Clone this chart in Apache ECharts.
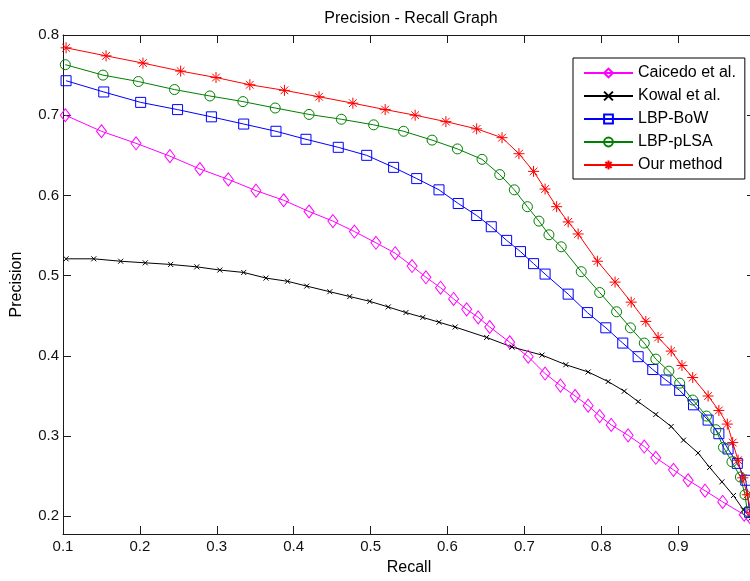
<!DOCTYPE html>
<html>
<head>
<meta charset="utf-8">
<script src="https://cdn.jsdelivr.net/npm/echarts@6/dist/echarts.min.js"></script>
<style>
html,body{margin:0;padding:0;background:#fff;overflow:hidden;width:750px;height:581px;}
#chart{width:755px;height:581px;}
</style>
</head>
<body>
<div id="chart"></div>
<script>
const titleText = 'Precision - Recall Graph';
const xName = 'Recall';
const yName = 'Precision';
const xTicks = [0.1, 0.2, 0.3, 0.4, 0.5, 0.6, 0.7, 0.8, 0.9];
const yTicks = [0.2, 0.3, 0.4, 0.5, 0.6, 0.7, 0.8];
const seriesNames = ['Caicedo et al.', 'Kowal et al.', 'LBP-BoW', 'LBP-pLSA', 'Our method'];

const caicedoRecall = [0.103, 0.150, 0.195, 0.239, 0.278, 0.315, 0.351, 0.387, 0.420, 0.451, 0.479, 0.507, 0.532, 0.554, 0.572, 0.591, 0.608, 0.625, 0.640, 0.655, 0.681, 0.705, 0.727, 0.747, 0.766, 0.783, 0.798, 0.813, 0.835, 0.856, 0.871, 0.894, 0.913, 0.935, 0.958, 0.986, 0.995];
const caicedoPrecision = [0.700, 0.680, 0.665, 0.649, 0.633, 0.620, 0.606, 0.594, 0.580, 0.568, 0.555, 0.541, 0.528, 0.512, 0.498, 0.485, 0.471, 0.458, 0.448, 0.436, 0.417, 0.399, 0.378, 0.363, 0.350, 0.338, 0.325, 0.314, 0.301, 0.287, 0.273, 0.258, 0.245, 0.232, 0.218, 0.202, 0.197];

const kowalRecall = [0.104, 0.140, 0.175, 0.207, 0.240, 0.274, 0.304, 0.335, 0.364, 0.392, 0.417, 0.447, 0.473, 0.499, 0.523, 0.546, 0.568, 0.589, 0.610, 0.651, 0.684, 0.723, 0.754, 0.783, 0.809, 0.830, 0.848, 0.871, 0.891, 0.907, 0.926, 0.941, 0.957, 0.972, 0.985, 0.995];
const kowalPrecision = [0.521, 0.521, 0.518, 0.516, 0.514, 0.511, 0.507, 0.504, 0.497, 0.493, 0.487, 0.480, 0.474, 0.468, 0.461, 0.454, 0.448, 0.442, 0.436, 0.423, 0.411, 0.401, 0.389, 0.380, 0.368, 0.356, 0.343, 0.327, 0.312, 0.295, 0.279, 0.261, 0.243, 0.226, 0.208, 0.198];

const bowRecall = [0.104, 0.153, 0.201, 0.249, 0.293, 0.335, 0.377, 0.416, 0.458, 0.495, 0.530, 0.560, 0.589, 0.614, 0.638, 0.657, 0.677, 0.695, 0.712, 0.727, 0.757, 0.782, 0.806, 0.828, 0.848, 0.867, 0.884, 0.902, 0.920, 0.939, 0.953, 0.965, 0.977, 0.988, 0.993];
const bowPrecision = [0.743, 0.729, 0.716, 0.707, 0.698, 0.689, 0.680, 0.670, 0.660, 0.650, 0.635, 0.621, 0.607, 0.590, 0.575, 0.561, 0.544, 0.530, 0.515, 0.502, 0.477, 0.454, 0.435, 0.416, 0.399, 0.383, 0.370, 0.357, 0.339, 0.320, 0.303, 0.284, 0.266, 0.245, 0.205];

const plsaRecall = [0.103, 0.152, 0.198, 0.245, 0.291, 0.334, 0.376, 0.420, 0.462, 0.504, 0.543, 0.580, 0.613, 0.645, 0.668, 0.687, 0.704, 0.719, 0.732, 0.748, 0.774, 0.798, 0.820, 0.838, 0.856, 0.871, 0.888, 0.902, 0.919, 0.937, 0.949, 0.959, 0.970, 0.981, 0.987, 0.990];
const plsaPrecision = [0.763, 0.750, 0.742, 0.732, 0.724, 0.717, 0.709, 0.701, 0.695, 0.688, 0.680, 0.669, 0.658, 0.645, 0.626, 0.607, 0.586, 0.568, 0.551, 0.536, 0.505, 0.479, 0.455, 0.435, 0.416, 0.396, 0.381, 0.366, 0.345, 0.325, 0.308, 0.286, 0.268, 0.249, 0.227, 0.206];

const oursRecall = [0.104, 0.156, 0.204, 0.253, 0.299, 0.343, 0.388, 0.433, 0.477, 0.519, 0.558, 0.598, 0.638, 0.671, 0.693, 0.712, 0.727, 0.742, 0.757, 0.770, 0.795, 0.818, 0.839, 0.858, 0.874, 0.891, 0.905, 0.919, 0.939, 0.953, 0.964, 0.971, 0.978, 0.984, 0.990, 0.995];
const oursPrecision = [0.784, 0.774, 0.765, 0.755, 0.747, 0.738, 0.731, 0.723, 0.715, 0.707, 0.700, 0.692, 0.683, 0.672, 0.652, 0.630, 0.608, 0.586, 0.567, 0.552, 0.518, 0.492, 0.467, 0.443, 0.423, 0.406, 0.388, 0.373, 0.350, 0.332, 0.315, 0.292, 0.270, 0.248, 0.227, 0.205];

function pairs(xs, ys) { return xs.map((x, i) => [x, ys[i]]); }

const FONT = 'Arial, "Liberation Sans", sans-serif';
const starPath = 'path://M5,0L5,10M0,5L10,5M1.5,1.5L8.5,8.5M8.5,1.5L1.5,8.5';
const xPath = 'path://M0,0L10,10M10,0L0,10';

function mkSeries(name, data, color, symbol, size) {
  return {
    name: name,
    type: 'line',
    data: data,
    color: color,
    symbol: symbol,
    symbolSize: size,
    showSymbol: true,
    lineStyle: { color: color, width: 1 },
    itemStyle: { color: 'rgba(0,0,0,0)', borderColor: color, borderWidth: 1 },
    emphasis: { disabled: true },
    clip: true,
    z: 3
  };
}

const chart = echarts.init(document.getElementById('chart'), null, { renderer: 'canvas' });
const axisLineStyle = { color: '#1a1a1a', width: 1 };
chart.setOption({
  animation: false,
  backgroundColor: '#ffffff',
  title: {
    text: titleText,
    left: 406,
    top: 6,
    textAlign: 'center',
    textStyle: { fontFamily: FONT, fontSize: 16, fontWeight: 'normal', color: '#000' }
  },
  legend: {
    orient: 'vertical',
    left: 573,
    top: 58,
    padding: [7, 9, 6, 10],
    itemWidth: 49,
    itemHeight: 11,
    itemGap: 7,
    backgroundColor: '#fff',
    borderColor: '#000',
    borderWidth: 1,
    data: seriesNames,
    textStyle: { fontFamily: FONT, fontSize: 16, color: '#000' }
  },
  grid: { left: 63, top: 35, right: 0, bottom: 44, containLabel: false },
  xAxis: [{
    type: 'value', min: 0.1, max: 1.0, interval: 0.1, position: 'bottom',
    name: xName, nameLocation: 'middle', nameGap: 26,
    nameTextStyle: { fontFamily: FONT, fontSize: 16, color: '#000' },
    axisLine: { show: true, lineStyle: axisLineStyle },
    axisTick: { show: true, inside: true, length: 8, lineStyle: axisLineStyle },
    axisLabel: { show: true, customValues: xTicks, margin: 5, fontFamily: FONT, fontSize: 15, color: '#111', formatter: v => String(v) },
    splitLine: { show: false }
  }, {
    type: 'value', min: 0.1, max: 1.0, interval: 0.1, position: 'top',
    axisLine: { show: true, lineStyle: axisLineStyle },
    axisTick: { show: true, inside: true, length: 8, lineStyle: axisLineStyle },
    axisLabel: { show: false },
    splitLine: { show: false }
  }],
  yAxis: [{
    type: 'value', min: 0.178, max: 0.8, position: 'left',
    name: yName, nameLocation: 'middle', nameGap: 38, nameRotate: 90,
    nameTextStyle: { fontFamily: FONT, fontSize: 16, color: '#000' },
    axisLine: { show: true, lineStyle: axisLineStyle },
    axisTick: { show: true, inside: true, length: 8, customValues: yTicks, lineStyle: axisLineStyle },
    axisLabel: { show: true, customValues: yTicks, margin: 4, fontFamily: FONT, fontSize: 15, color: '#111', formatter: v => String(v) },
    splitLine: { show: false }
  }, {
    type: 'value', min: 0.178, max: 0.8, position: 'right',
    axisLine: { show: true, lineStyle: axisLineStyle },
    axisTick: { show: true, inside: true, length: 8, customValues: yTicks, lineStyle: axisLineStyle },
    axisLabel: { show: false },
    splitLine: { show: false }
  }],
  series: [
    mkSeries(seriesNames[0], pairs(caicedoRecall, caicedoPrecision), '#ff00ff', 'diamond', [10, 13]),
    mkSeries(seriesNames[1], pairs(kowalRecall, kowalPrecision), '#000000', xPath, 5),
    mkSeries(seriesNames[2], pairs(bowRecall, bowPrecision), '#0000ff', 'rect', 10),
    mkSeries(seriesNames[3], pairs(plsaRecall, plsaPrecision), '#008000', 'circle', 10),
    mkSeries(seriesNames[4], pairs(oursRecall, oursPrecision), '#ff0000', starPath, 11)
  ]
});
</script>
</body>
</html>
